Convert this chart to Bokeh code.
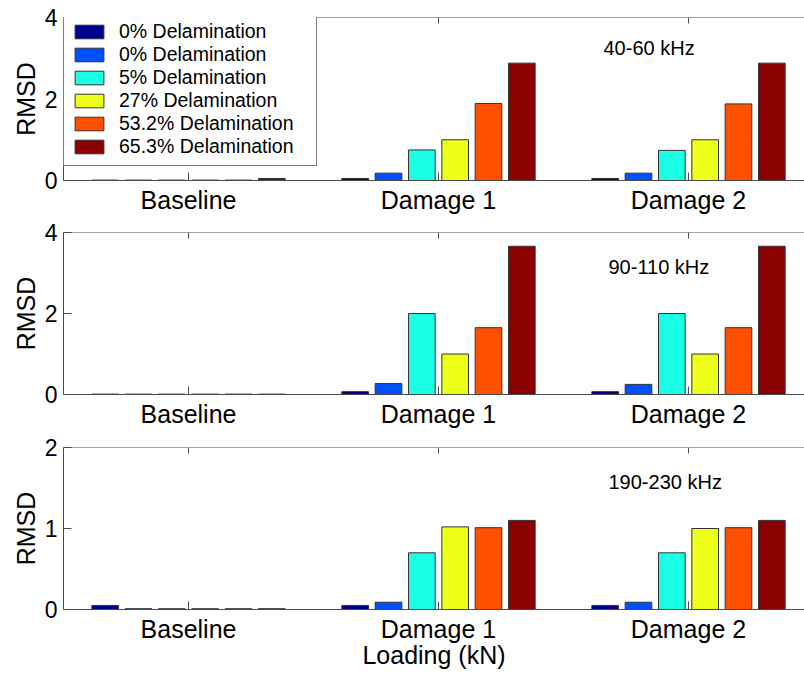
from bokeh.plotting import figure
from bokeh.layouts import column
from bokeh.models import (Range1d, FixedTicker, Legend, LegendItem,
                          ColumnDataSource, Label, Span)
from bokeh.transform import dodge
from bokeh.embed import file_html
from bokeh.resources import INLINE

categories = ["Baseline", "Damage 1", "Damage 2"]
cat_pos = [1, 2, 3]
series_labels = ["0% Delamination", "0% Delamination", "5% Delamination",
                 "27% Delamination", "53.2% Delamination", "65.3% Delamination"]
colors = ["#00008F", "#0050FF", "#1AFFE6", "#EEFF1A", "#FF5000", "#8B0000"]

# rows = series, columns = categories
rmsd_40_60 = [
    [0.01, 0.05, 0.05],
    [0.01, 0.18, 0.18],
    [0.01, 0.75, 0.74],
    [0.01, 1.00, 1.00],
    [0.01, 1.89, 1.88],
    [0.05, 2.88, 2.88],
]
rmsd_90_110 = [
    [0.01, 0.07, 0.07],
    [0.01, 0.27, 0.25],
    [0.01, 2.00, 2.00],
    [0.01, 1.00, 1.00],
    [0.01, 1.65, 1.65],
    [0.01, 3.66, 3.66],
]
rmsd_190_230 = [
    [0.05, 0.05, 0.05],
    [0.01, 0.09, 0.09],
    [0.01, 0.70, 0.70],
    [0.01, 1.02, 1.00],
    [0.01, 1.01, 1.01],
    [0.01, 1.10, 1.10],
]
band_labels = ["40-60 kHz", "90-110 kHz", "190-230 kHz"]
y_ticks = [[0, 2, 4], [0, 2, 4], [0, 1, 2]]

FONT = "Liberation Sans"
AX = "#4a4a4a"
n = len(series_labels)
group_w = 0.8
step = group_w / n
bar_w = step * 0.8


def panel(values, ticks, band, band_xy, top_border, bottom_border, frame_h,
          xlabel=None, legend=False):
    ymin, ymax = ticks[0], ticks[-1]
    p = figure(frame_width=741, frame_height=frame_h,
               x_range=Range1d(0.5, 3.464), y_range=Range1d(ymin, ymax),
               output_backend="svg", toolbar_location=None,
               min_border_left=63, min_border_right=0,
               min_border_top=top_border, min_border_bottom=bottom_border,
               background_fill_color="white", border_fill_color="white")
    p.outline_line_color = None
    p.grid.visible = False

    renderers = []
    for i in range(n):
        src = ColumnDataSource(dict(x=cat_pos, top=values[i]))
        off = (i - (n - 1) / 2) * step
        r = p.vbar(x=dodge("x", off, range=p.x_range), top="top", bottom=0,
                   width=bar_w, source=src, fill_color=colors[i],
                   line_color="#333333", line_width=1)
        renderers.append(r)

    # top border of the box and its inward ticks
    p.add_layout(Span(location=ymax, dimension="width", line_color=AX,
                      line_width=1))
    tick_len = (ymax - ymin) * 6.0 / frame_h
    p.segment(x0=cat_pos, x1=cat_pos, y0=[ymax] * len(cat_pos),
              y1=[ymax - tick_len] * len(cat_pos), line_color=AX, line_width=1)

    xa = p.xaxis[0]
    xa.ticker = FixedTicker(ticks=cat_pos)
    xa.major_label_overrides = {c: l for c, l in zip(cat_pos, categories)}
    xa.major_label_text_font = FONT
    xa.major_label_text_font_size = "25px"
    xa.major_label_text_color = "black"
    xa.major_label_standoff = 5
    xa.major_tick_in = 8
    xa.major_tick_out = 0
    xa.minor_tick_line_color = None
    xa.axis_line_color = AX
    xa.major_tick_line_color = AX
    if xlabel:
        xa.axis_label = xlabel
        xa.axis_label_text_font = FONT
        xa.axis_label_text_font_size = "25px"
        xa.axis_label_text_font_style = "normal"
        xa.axis_label_text_color = "black"
        xa.axis_label_standoff = -5

    ya = p.yaxis[0]
    ya.ticker = FixedTicker(ticks=ticks)
    ya.major_label_text_font = FONT
    ya.major_label_text_font_size = "23px"
    ya.major_label_text_color = "black"
    ya.major_label_standoff = 6
    ya.major_tick_in = 8
    ya.major_tick_out = 0
    ya.minor_tick_line_color = None
    ya.axis_line_color = AX
    ya.major_tick_line_color = AX
    ya.axis_label = "RMSD"
    ya.axis_label_text_font = FONT
    ya.axis_label_text_font_size = "25px"
    ya.axis_label_text_font_style = "normal"
    ya.axis_label_text_color = "black"
    ya.axis_label_standoff = 2

    p.add_layout(Label(x=band_xy[0], y=band_xy[1], text=band,
                       text_font=FONT, text_font_size="20px",
                       text_color="black", text_baseline="middle"))

    if legend:
        items = [LegendItem(label=series_labels[i], renderers=[renderers[i]])
                 for i in range(n)]
        lg = Legend(items=items, location=(0, 14),
                    padding=7, spacing=0, glyph_width=36, glyph_height=17,
                    label_standoff=12, label_width=190,
                    label_text_font=FONT, label_text_font_size="19.5px",
                    label_text_color="black",
                    border_line_color="black", border_line_width=1,
                    background_fill_color="white", background_fill_alpha=1)
        lg.margin = 0
        p.add_layout(lg)
    return p


p1 = panel(rmsd_40_60, y_ticks[0], band_labels[0], (2.66, 3.24), 17, 38, 163,
           legend=True)
p2 = panel(rmsd_90_110, y_ticks[1], band_labels[1], (2.68, 3.14), 14, 39, 162)
p3 = panel(rmsd_190_230, y_ticks[2], band_labels[2], (2.68, 1.58), 14, 71, 162,
           xlabel="Loading (kN)")

layout = column(p1, p2, p3, spacing=0)
open("out.html", "w").write(file_html(layout, INLINE))
